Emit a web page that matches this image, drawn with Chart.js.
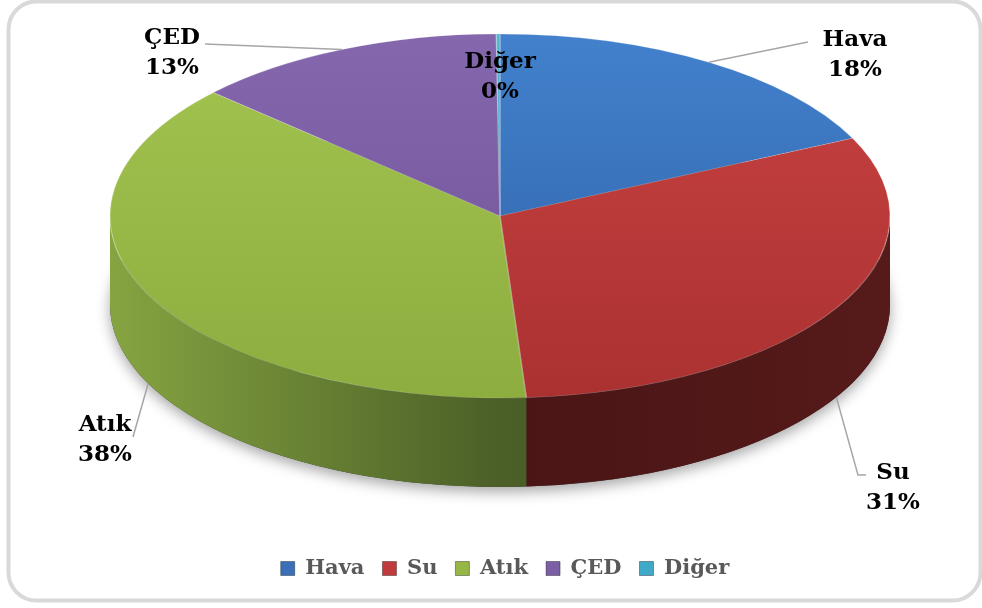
<!DOCTYPE html>
<html>
<head>
<meta charset="utf-8">
<script src="https://cdn.jsdelivr.net/npm/chart.js@4/dist/chart.umd.min.js"></script>
<style>
  html, body { margin: 0; padding: 0; background: #fff; }
  #wrap { position: relative; width: 982px; height: 608px; }
</style>
</head>
<body>
<div id="wrap"><canvas id="pie"></canvas></div>
<script>
const categories = ["Hava", "Su", "Atık", "ÇED", "Diğer"];
const shares = [18, 31, 38, 13, 0.15];

// top face: light / dark stops, side wall: left / middle / right stops
const topColors = [
  ["#4381cd", "#2d60a4"],
  ["#c94242", "#ab3131"],
  ["#a3c450", "#8dad3f"],
  ["#8567ad", "#6e5198"],
  ["#4fb6d2", "#2f8fab"]
];
const sideColors = [
  ["#2f5b93", "#244a7a", "#1f3d66"],
  ["#5e1c1c", "#4a1515", "#561a1a"],
  ["#86a441", "#4b5f27", "#3e4d20"],
  ["#5c4580", "#4a3768", "#3f2f59"],
  ["#2d7e95", "#256a7e", "#1f5a6b"]
];
const legendColors = ["#3b70b8", "#c03b3b", "#96b645", "#7a5ea6", "#40a9c8"];

// ellipse of the top face and wall height
const CX = 500, CY = 216, RX = 390, RY = 182, DEPTH = 89;

// data label placement: text centre, first line y, leader break points
const labelLayout = [
  { x: 855, y: 40, lead: [[808, 42]] },
  { x: 893, y: 473, lead: [[858, 475], [866, 475]] },
  { x: 105, y: 425, lead: [[133, 437]] },
  { x: 172, y: 38, lead: [[205, 44]] },
  { x: 500, y: 62, lead: null }
];

const total = shares.reduce((a, b) => a + b, 0);

function frontRanges(s, e) {
  const out = [];
  for (let k = -1; k <= 1; k++) {
    const lo = Math.max(s, k * 2 * Math.PI);
    const hi = Math.min(e, k * 2 * Math.PI + Math.PI);
    if (hi > lo) out.push([lo, hi]);
  }
  return out;
}

const frame = {
  id: "frame",
  beforeDraw(chart) {
    const ctx = chart.ctx;
    ctx.save();
    ctx.fillStyle = "#fff";
    ctx.fillRect(0, 0, chart.width, chart.height);
    ctx.strokeStyle = "#d9d9d9";
    ctx.lineWidth = 4;
    ctx.beginPath();
    ctx.roundRect(8.5, 1.5, 972, 599, 28);
    ctx.stroke();
    ctx.restore();
  }
};

const pie3d = {
  id: "pie3d",
  beforeDatasetsDraw(chart) {
    const ctx = chart.ctx;
    const arcs = chart.getDatasetMeta(0).data;

    // soft shadow under the base
    ctx.save();
    ctx.shadowColor = "rgba(0,0,0,0.35)";
    ctx.shadowBlur = 14;
    ctx.shadowOffsetY = 5;
    ctx.fillStyle = "#3a3a3a";
    ctx.beginPath();
    ctx.ellipse(CX, CY + DEPTH, RX, RY, 0, 0, Math.PI * 2);
    ctx.fill();
    ctx.restore();

    // side walls of the front half
    arcs.forEach((arc, i) => {
      frontRanges(arc.startAngle, arc.endAngle).forEach(([a, b]) => {
        const g = ctx.createLinearGradient(CX - RX, 0, CX + RX, 0);
        g.addColorStop(0, sideColors[i][0]);
        g.addColorStop(0.5, sideColors[i][1]);
        g.addColorStop(1, sideColors[i][2]);
        ctx.save();
        ctx.fillStyle = g;
        ctx.beginPath();
        ctx.ellipse(CX, CY, RX, RY, 0, a, b);
        ctx.ellipse(CX, CY + DEPTH, RX, RY, 0, b, a, true);
        ctx.closePath();
        ctx.fill();
        ctx.restore();
      });
    });

    // squash the library's round pie onto the top ellipse
    const el = arcs[0];
    ctx.save();
    ctx.translate(CX, CY);
    ctx.scale(RX / el.outerRadius, RY / el.outerRadius);
    ctx.translate(-el.x, -el.y);
  },
  afterDatasetsDraw(chart) {
    const ctx = chart.ctx;
    ctx.restore();

    const arcs = chart.getDatasetMeta(0).data;
    ctx.save();
    ctx.font = "bold 23px 'DejaVu Serif'";
    ctx.textAlign = "center";
    ctx.textBaseline = "middle";
    arcs.forEach((arc, i) => {
      const lay = labelLayout[i];
      const mid = (arc.startAngle + arc.endAngle) / 2;
      const ax = CX + RX * Math.cos(mid);
      let ay = CY + RY * Math.sin(mid);
      if (Math.sin(mid) > 0) ay += DEPTH;
      if (lay.lead) {
        ctx.strokeStyle = "#a6a6a6";
        ctx.lineWidth = 1.5;
        ctx.beginPath();
        ctx.moveTo(ax, ay);
        lay.lead.forEach(p => ctx.lineTo(p[0], p[1]));
        ctx.stroke();
      }
      const pct = Math.round(shares[i] / total * 100) + "%";
      ctx.fillStyle = "#000";
      ctx.fillText(categories[i], lay.x, lay.y);
      ctx.fillText(pct, lay.x, lay.y + 30);
    });
    ctx.restore();
  }
};

new Chart(document.getElementById("pie"), {
  type: "pie",
  data: {
    labels: categories,
    datasets: [{
      data: shares,
      clip: false,
      borderWidth: 1,
      borderColor: "rgba(255,255,255,0.25)",
      backgroundColor: (c) => {
        const area = c.chart.chartArea;
        const pair = topColors[c.dataIndex];
        if (!area) return pair[0];
        const g = c.chart.ctx.createLinearGradient(0, area.top, 0, area.bottom);
        g.addColorStop(0, pair[0]);
        g.addColorStop(1, pair[1]);
        return g;
      }
    }]
  },
  options: {
    responsive: true,
    maintainAspectRatio: false,
    animation: false,
    events: [],
    layout: { padding: { bottom: 19, left: 28 } },
    plugins: {
      tooltip: { enabled: false },
      legend: {
        position: "bottom",
        labels: {
          boxWidth: 14,
          boxHeight: 14,
          padding: 18,
          color: "#595959",
          font: { family: "DejaVu Serif", weight: "bold", size: 21 },
          generateLabels: () => categories.map((name, i) => ({
            text: name,
            fillStyle: legendColors[i],
            strokeStyle: "rgba(0,0,0,0.35)",
            lineWidth: 1,
            fontColor: "#595959",
            index: i
          }))
        }
      }
    }
  },
  plugins: [frame, pie3d]
});
</script>
</body>
</html>
